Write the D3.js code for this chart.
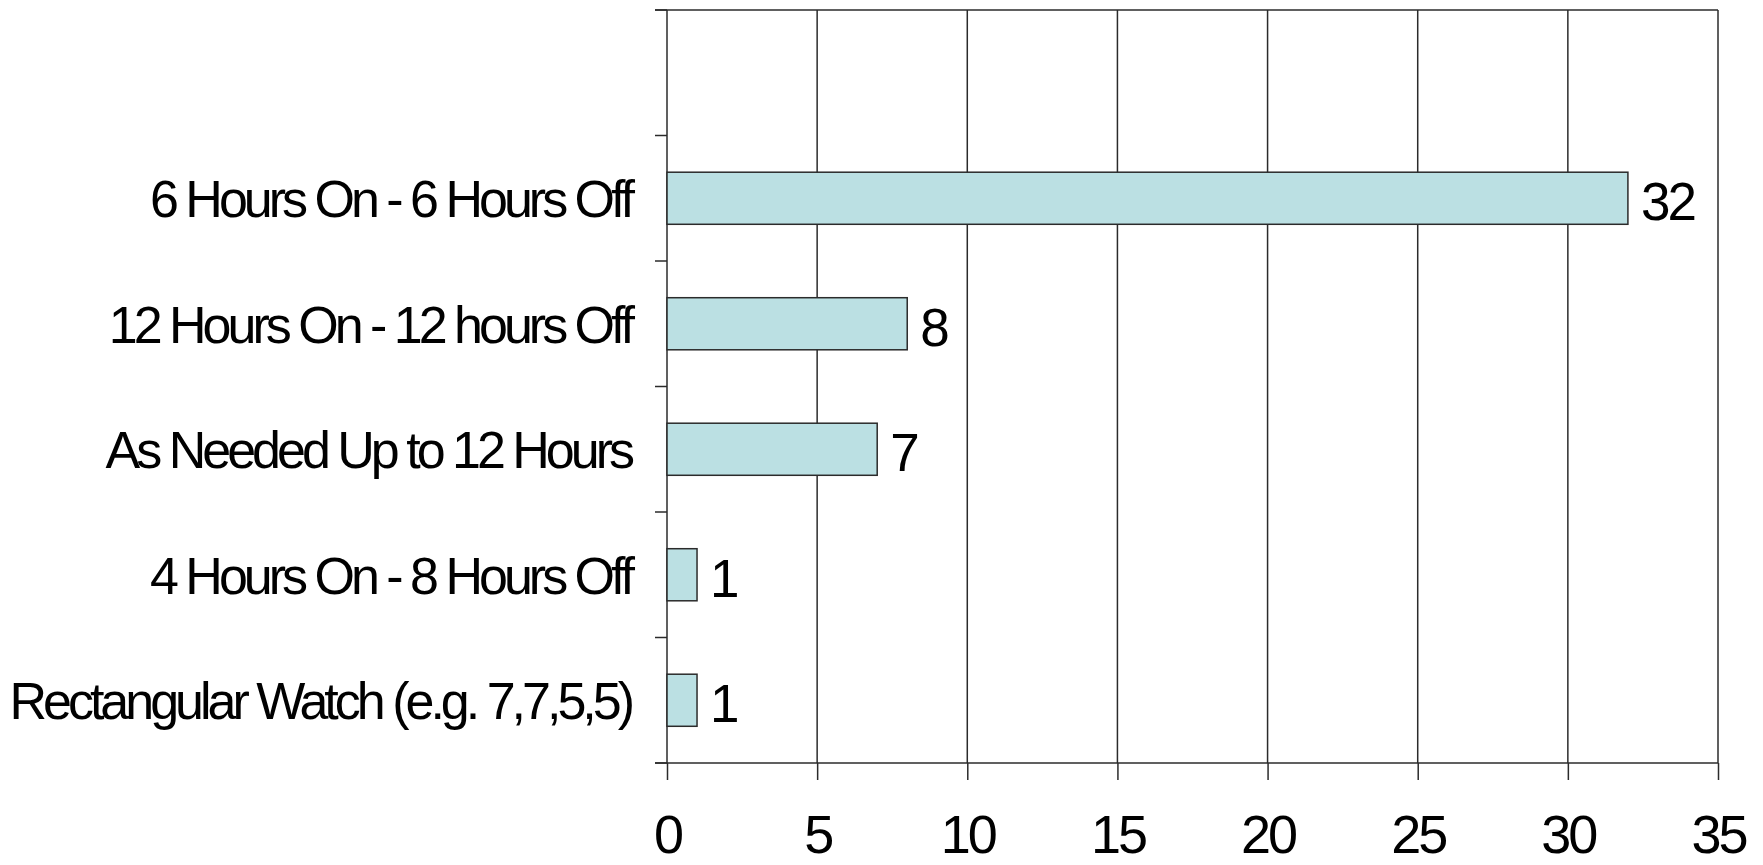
<!DOCTYPE html>
<html>
<head>
<meta charset="utf-8">
<script src="https://cdn.jsdelivr.net/npm/d3@7"></script>
<style>
	html, body { margin: 0; padding: 0; background: #fff; }
	svg { display: block; font-family: 'Liberation Sans', Arial, sans-serif; }
</style>
</head>
<body>
<svg id="chart" width="1763" height="865"></svg>
<script>
// top slot on the category axis is left empty in the original
const categories = [
	'',
	'6 Hours On - 6 Hours Off',
	'12 Hours On - 12 hours Off',
	'As Needed Up to 12 Hours',
	'4 Hours On - 8 Hours Off',
	'Rectangular Watch (e.g. 7,7,5,5)',
];
const values = [null, 32, 8, 7, 1, 1];
const xTicks = [0, 5, 10, 15, 20, 25, 30, 35];

const plotLeft = 667, plotRight = 1718, plotTop = 10, plotBottom = 763;
const lineColor = '#2b2b2b';
const barFill = '#bbe0e3';

const svg = d3.select('#chart');

const x = d3.scaleLinear().domain([0, 35]).range([plotLeft, plotRight]);
const y = d3.scaleBand().domain(categories).range([plotTop, plotBottom])
	.paddingInner(0.585).paddingOuter(0.2925);
const step = (plotBottom - plotTop) / categories.length;

// vertical grid lines
svg.append('g').selectAll('line')
	.data(xTicks).enter().append('line')
	.attr('x1', d => x(d)).attr('x2', d => x(d))
	.attr('y1', plotTop).attr('y2', plotBottom)
	.attr('stroke', lineColor).attr('stroke-width', 1.5);

// frame top
svg.append('line')
	.attr('x1', plotLeft - 12).attr('x2', plotRight).attr('y1', plotTop).attr('y2', plotTop)
	.attr('stroke', lineColor).attr('stroke-width', 1.5);

// category ticks on slot boundaries
svg.append('g').selectAll('line')
	.data(d3.range(categories.length + 1)).enter().append('line')
	.attr('x1', plotLeft - 12).attr('x2', plotLeft)
	.attr('y1', i => plotTop + i * step).attr('y2', i => plotTop + i * step)
	.attr('stroke', lineColor).attr('stroke-width', 1.5);

// bottom axis
const xAxis = svg.append('g').attr('transform', `translate(0,${plotBottom})`)
	.call(d3.axisBottom(x).tickValues(xTicks).tickSizeInner(17).tickSizeOuter(0));
xAxis.select('.domain').remove();
xAxis.selectAll('.tick line').attr('stroke', lineColor).attr('stroke-width', 1.5);
xAxis.selectAll('.tick text')
	.attr('y', 90).attr('dy', null)
	.attr('fill', '#000').attr('font-size', 54).attr('letter-spacing', -3)
	.attr('font-family', "'Liberation Sans', Arial, sans-serif");
svg.append('line')
	.attr('x1', plotLeft - 12).attr('x2', plotRight).attr('y1', plotBottom).attr('y2', plotBottom)
	.attr('stroke', lineColor).attr('stroke-width', 1.5);

const rows = categories.map((c, i) => ({ c, v: values[i] })).filter(d => d.v !== null);

// bars
svg.append('g').selectAll('rect')
	.data(rows).enter().append('rect')
	.attr('x', x(0)).attr('y', d => y(d.c))
	.attr('width', d => x(d.v) - x(0)).attr('height', y.bandwidth())
	.attr('fill', barFill).attr('stroke', lineColor).attr('stroke-width', 1.5);

// value labels
svg.append('g').selectAll('text')
	.data(rows).enter().append('text')
	.attr('x', d => x(d.v) + 13).attr('y', d => y(d.c) + y.bandwidth() / 2 + 22)
	.attr('font-size', 53).attr('letter-spacing', -3)
	.text(d => d.v);

// category labels
svg.append('g').selectAll('text')
	.data(rows).enter().append('text')
	.attr('x', plotLeft - 36).attr('y', d => y(d.c) + y.bandwidth() / 2 + 19)
	.attr('text-anchor', 'end')
	.attr('font-size', 52).attr('letter-spacing', -4)
	.text(d => d.c);
</script>
</body>
</html>
